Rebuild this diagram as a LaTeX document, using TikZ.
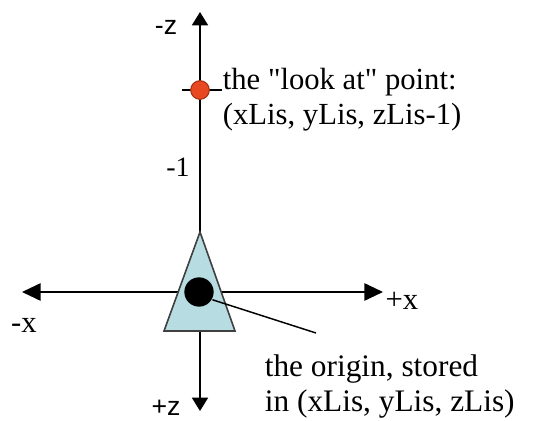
\documentclass[tikz,border=0pt]{standalone}
\usepackage{fontspec}
\setmainfont{Liberation Serif}[Ligatures=TeXOff]
\newfontfamily\axisfont{Liberation Sans}
\usetikzlibrary{arrows.meta}
\definecolor{camblue}{RGB}{183,221,227}
\definecolor{lookred}{RGB}{232,72,32}
\begin{document}
\begin{tikzpicture}[x=0.75pt, y=0.75pt, line width=1.3pt,
  axis/.style={line width=1.4pt, -{Triangle[length=14pt, width=13pt]}},
  zaxis/.style={line width=1.4pt, -{Triangle[length=10pt, width=12pt]}},
  every node/.style={inner sep=0pt, font=\fontsize{23}{26.5}\selectfont}]
  \useasboundingbox (0,0) rectangle (533,421);
  % axes
  \coordinate (xneg) at (22,129);
  \coordinate (xpos) at (383,129);
  \coordinate (zneg) at (200,409);
  \coordinate (zpos) at (200,10);
  \draw[axis] (200,129) -- (xneg);
  \draw[axis] (200,129) -- (xpos);
  \draw[zaxis] (200,129) -- (zneg);
  \draw[zaxis] (200,129) -- (zpos);
  % camera
  \draw[line width=1.2pt, draw=black!75, fill=camblue] (200,189) -- (164,90) -- (235,90) -- cycle;
  \node[circle, fill=black, minimum size=22pt] (origin) at (199,129) {};
  % look at point
  \draw[line width=1.2pt] (182,331) -- (222,331);
  \node[circle, fill=lookred, draw=lookred!70!black, line width=0.8pt, minimum size=14pt] (look) at (200,331) {};
  % labels
  \node[font=\axisfont\fontsize{20}{24}\selectfont] (lzneg) at (166,394) {-z};
  \node[font=\axisfont\fontsize{20}{24}\selectfont] (lzpos) at (166,13) {+z};
  \node (lxneg) at (24,96) {-x};
  \node (lxpos) at (402,120) {+x};
  \node[font=\fontsize{21}{24}\selectfont] (lone) at (178,254) {-1};
  \node[anchor=north west, align=left] (looktext) at (222,354)
    {the "look at" point:\\(xLis, yLis, zLis-1)};
  \node[anchor=north west, align=left, font=\fontsize{23.5}{26.5}\selectfont] (origintext) at (264,67)
    {the origin, stored\\in (xLis, yLis, zLis)};
  % leader
  \coordinate (lead) at (316,88);
  \draw[line width=1.1pt] (origin.-30) -- (lead);
\end{tikzpicture}
\end{document}
